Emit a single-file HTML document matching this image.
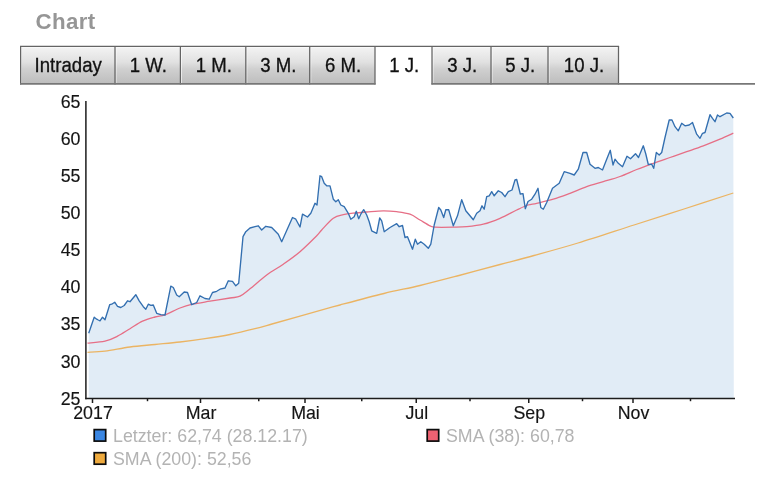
<!DOCTYPE html>
<html><head><meta charset="utf-8"><title>Chart</title>
<style>
html,body{margin:0;padding:0;background:#fff;}
body{width:768px;height:486px;position:relative;overflow:hidden;font-family:"Liberation Sans",Arial,sans-serif;}
h2{position:absolute;left:35.5px;top:8.5px;margin:0;font-size:22.3px;line-height:26px;font-weight:bold;color:#969696;letter-spacing:0.35px;}
svg{position:absolute;left:0;top:0}
svg text.tt{font-size:18.6px;fill:#111;stroke:#111;stroke-width:0.3px}
svg text{font-family:"Liberation Sans",Arial,sans-serif;font-size:17.8px;fill:#141414;stroke:#141414;stroke-width:0.15px}
.leg{position:absolute;font-size:17.8px;color:#b3b3b3;line-height:20px;white-space:nowrap}
#w{position:absolute;left:0;top:0;width:768px;height:486px;filter:blur(0.5px)}
</style></head><body><div id="w">
<h2>Chart</h2>

<svg width="768" height="486" viewBox="0 0 768 486">
<defs><linearGradient id="tg" x1="0" y1="0" x2="0" y2="1"><stop offset="0" stop-color="#f4f4f4"/><stop offset="0.42" stop-color="#e1e1e1"/><stop offset="0.6" stop-color="#d0d0d0"/><stop offset="1" stop-color="#bdbdbd"/></linearGradient></defs>
<rect x="20" y="46.3" width="95.0" height="37.60" fill="url(#tg)"/>
<path d="M21.1,83.10000000000001 V47.4 H114.4" fill="none" stroke="#fff" stroke-opacity="0.6" stroke-width="1"/>
<text class="tt" transform="translate(68.2,71.9) scale(1,1.08)" text-anchor="middle">Intraday</text>
<rect x="115" y="46.3" width="65.4" height="37.60" fill="url(#tg)"/>
<path d="M116.1,83.10000000000001 V47.4 H179.8" fill="none" stroke="#fff" stroke-opacity="0.6" stroke-width="1"/>
<text class="tt" transform="translate(148.4,71.9) scale(1,1.08)" text-anchor="middle">1 W.</text>
<rect x="180.4" y="46.3" width="65.4" height="37.60" fill="url(#tg)"/>
<path d="M181.5,83.10000000000001 V47.4 H245.20000000000002" fill="none" stroke="#fff" stroke-opacity="0.6" stroke-width="1"/>
<text class="tt" transform="translate(213.8,71.9) scale(1,1.08)" text-anchor="middle">1 M.</text>
<rect x="245.8" y="46.3" width="63.9" height="37.60" fill="url(#tg)"/>
<path d="M246.9,83.10000000000001 V47.4 H309.09999999999997" fill="none" stroke="#fff" stroke-opacity="0.6" stroke-width="1"/>
<text class="tt" transform="translate(278.4,71.9) scale(1,1.08)" text-anchor="middle">3 M.</text>
<rect x="309.7" y="46.3" width="65.3" height="37.60" fill="url(#tg)"/>
<path d="M310.8,83.10000000000001 V47.4 H374.4" fill="none" stroke="#fff" stroke-opacity="0.6" stroke-width="1"/>
<text class="tt" transform="translate(343.1,71.9) scale(1,1.08)" text-anchor="middle">6 M.</text>
<text class="tt" transform="translate(404.2,71.9) scale(1,1.08)" text-anchor="middle">1 J.</text>
<rect x="432" y="46.3" width="59.0" height="37.60" fill="url(#tg)"/>
<path d="M433.1,83.10000000000001 V47.4 H490.4" fill="none" stroke="#fff" stroke-opacity="0.6" stroke-width="1"/>
<text class="tt" transform="translate(462.2,71.9) scale(1,1.08)" text-anchor="middle">3 J.</text>
<rect x="491" y="46.3" width="57.0" height="37.60" fill="url(#tg)"/>
<path d="M492.1,83.10000000000001 V47.4 H547.4" fill="none" stroke="#fff" stroke-opacity="0.6" stroke-width="1"/>
<text class="tt" transform="translate(520.2,71.9) scale(1,1.08)" text-anchor="middle">5 J.</text>
<rect x="548" y="46.3" width="70.5" height="37.60" fill="url(#tg)"/>
<path d="M549.1,83.10000000000001 V47.4 H617.9" fill="none" stroke="#fff" stroke-opacity="0.6" stroke-width="1"/>
<text class="tt" transform="translate(584.0,71.9) scale(1,1.08)" text-anchor="middle">10 J.</text>
<g stroke="#646464" stroke-width="1.25" fill="none"><line x1="20" y1="46.3" x2="619.1" y2="46.3"/><line x1="20.6" y1="46.3" x2="20.6" y2="84.5"/><line x1="115" y1="46.3" x2="115" y2="84.5"/><line x1="180.4" y1="46.3" x2="180.4" y2="84.5"/><line x1="245.8" y1="46.3" x2="245.8" y2="84.5"/><line x1="309.7" y1="46.3" x2="309.7" y2="84.5"/><line x1="375" y1="46.3" x2="375" y2="84.5"/><line x1="432" y1="46.3" x2="432" y2="84.5"/><line x1="491" y1="46.3" x2="491" y2="84.5"/><line x1="548" y1="46.3" x2="548" y2="84.5"/><line x1="618.5" y1="46.3" x2="618.5" y2="84.5"/></g>
<g stroke="#777" stroke-width="1.6"><line x1="20" y1="83.9" x2="375.6" y2="83.9"/><line x1="431.4" y1="83.9" x2="755" y2="83.9"/></g>
<path d="M88.7,398 L88.7,333.3 L94.2,317.2 L96.7,319.2 L98.3,320 L100,320.8 L102.5,317.2 L105,319.7 L109.7,304.7 L111.7,304.2 L114.7,302.2 L117.5,306.3 L120.8,307.5 L124.2,305.5 L127.5,300.8 L130,301.7 L135.8,294.7 L139.2,300.8 L143.3,306.7 L145.8,309.2 L148.3,304.2 L150.8,305.3 L153.3,305 L156.7,313.3 L160.8,314.7 L165,315 L170.8,286.2 L173.3,287.5 L176.7,295 L179.2,296.7 L184.2,292 L187.5,292.5 L191.7,304.7 L196.7,302.5 L200,295.8 L205,298.5 L209.2,299.2 L212.5,292.5 L216.7,291.3 L220,289.2 L225,288 L228.3,280.8 L232.5,281.3 L235.8,285.8 L238.7,283.3 L243,236.7 L245.8,231.7 L250,228 L255,226.7 L258.3,225.8 L261.7,230 L265.8,226.3 L271.7,227.5 L278.3,234.2 L281.7,241.7 L286.7,230.5 L292.5,217.5 L295.8,219.2 L300,227 L302.5,214.2 L307.5,217 L310.8,213.3 L315,203.3 L317,205 L320,175.8 L321.7,176.7 L324.2,183.3 L326.7,185.8 L330,185.8 L333.3,199.2 L335.8,201.7 L338.3,199.7 L340.8,205 L344.2,206.7 L348.3,213.3 L350.8,219.2 L354.2,216.7 L356.3,211.3 L358.7,218.7 L360.8,214.2 L363.7,209.7 L366.7,215 L369.2,221.7 L371.7,230.8 L376.7,233.3 L379.7,218 L381.7,220.8 L384.2,231.7 L390,227.5 L396.7,223.7 L399.2,226.7 L402.5,225.5 L405,237.5 L407.5,236.7 L412.5,249.2 L415.3,239.2 L417.5,244.2 L420.8,241.7 L424.2,244.2 L428.3,248.3 L430.8,244.2 L434.2,225 L438.7,207.5 L440.8,210 L443.7,217.5 L445.8,209.7 L448.7,209.7 L453.3,225.8 L457.5,215.8 L461.7,199.7 L465.8,210.8 L470,215.8 L473.3,219.7 L476.7,213.3 L480,210.8 L482,205.8 L484.2,209.2 L486.7,196.7 L489.2,195.8 L491.7,191.7 L494.2,195.8 L498.3,190.8 L501.7,192.5 L505,196.7 L508.3,191.7 L512,190 L515,180 L516.7,179.5 L520.3,194 L523,193.7 L525.3,208.7 L528,201.5 L531.7,199.2 L535,194.2 L538,188.3 L540.8,207.5 L543.3,209.2 L546.7,202.5 L552.5,188.3 L559.2,183.3 L564.2,171.7 L570,173.3 L574.2,175 L578.3,169.2 L583,152.5 L586.7,152.5 L590,164.2 L595,168.3 L598.3,167.5 L602.5,170 L606.7,159.2 L610.3,150.3 L613,165 L615,159.2 L618.3,163.3 L622.5,166.7 L627,156.3 L630.5,158.8 L635.5,153.7 L638.5,157.5 L643.3,145.8 L645.8,154 L648.3,164.5 L651.7,164.2 L653.7,168.3 L656.3,152.5 L659.2,155 L661.7,152.5 L665,137.5 L669.2,120 L672,120 L675,126.7 L678.3,130.8 L681.7,123.3 L685,125.8 L689.2,125 L692.5,122.5 L696.7,134.2 L700,138.3 L702.5,133.3 L705,132.5 L710,114.7 L712.5,118.3 L715,121.7 L717.5,115 L720,116.7 L726.7,113 L730,113.3 L733.3,118 L733.8,398 Z" fill="#e1ecf6"/>
<path d="M87.50,352.30 C90.42,352.12 97.92,352.08 105.00,351.20 C112.08,350.32 121.67,348.12 130.00,347.00 C138.33,345.88 146.67,345.33 155.00,344.50 C163.33,343.67 171.67,342.97 180.00,342.00 C188.33,341.03 196.67,339.95 205.00,338.70 C213.33,337.45 221.67,336.17 230.00,334.50 C238.33,332.83 248.00,330.45 255.00,328.70 C262.00,326.95 264.50,326.12 272.00,324.00 C279.50,321.88 288.67,319.17 300.00,316.00 C311.33,312.83 326.00,308.75 340.00,305.00 C354.00,301.25 370.67,296.75 384.00,293.50 C397.33,290.25 407.50,288.50 420.00,285.50 C432.50,282.50 445.67,279.00 459.00,275.50 C472.33,272.00 487.50,267.83 500.00,264.50 C512.50,261.17 521.00,259.08 534.00,255.50 C547.00,251.92 561.33,248.08 578.00,243.00 C594.67,237.92 616.33,230.67 634.00,225.00 C651.67,219.33 667.45,214.33 684.00,209.00 C700.55,203.67 725.08,195.67 733.30,193.00" fill="none" stroke="#ebb463" stroke-width="1.3"/>
<path d="M87.50,343.20 C90.42,342.87 100.00,342.37 105.00,341.20 C110.00,340.03 113.33,338.28 117.50,336.20 C121.67,334.12 125.83,331.20 130.00,328.70 C134.17,326.20 138.33,323.15 142.50,321.20 C146.67,319.25 151.25,318.07 155.00,317.00 C158.75,315.93 160.83,316.30 165.00,314.80 C169.17,313.30 175.42,309.77 180.00,308.00 C184.58,306.23 187.50,305.33 192.50,304.20 C197.50,303.07 203.75,302.23 210.00,301.20 C216.25,300.17 225.00,298.83 230.00,298.00 C235.00,297.17 236.67,297.73 240.00,296.20 C243.33,294.67 245.55,292.33 250.00,288.80 C254.45,285.27 261.15,279.10 266.70,275.00 C272.25,270.90 277.75,268.08 283.30,264.20 C288.85,260.32 294.43,256.43 300.00,251.70 C305.57,246.97 313.08,239.42 316.70,235.80 C320.32,232.18 318.93,232.92 321.70,230.00 C324.47,227.08 329.70,220.85 333.30,218.30 C336.90,215.75 339.68,215.58 343.30,214.70 C346.92,213.82 351.10,213.45 355.00,213.00 C358.90,212.55 361.98,212.37 366.70,212.00 C371.42,211.63 378.30,210.85 383.30,210.80 C388.30,210.75 392.25,211.13 396.70,211.70 C401.15,212.27 406.12,212.82 410.00,214.20 C413.88,215.58 416.67,218.07 420.00,220.00 C423.33,221.93 427.50,224.60 430.00,225.80 C432.50,227.00 431.12,226.97 435.00,227.20 C438.88,227.43 448.02,227.28 453.30,227.20 C458.58,227.12 461.70,227.20 466.70,226.70 C471.70,226.20 477.75,225.60 483.30,224.20 C488.85,222.80 494.43,220.67 500.00,218.30 C505.57,215.93 512.03,212.22 516.70,210.00 C521.37,207.78 524.67,206.12 528.00,205.00 C531.33,203.88 532.48,204.27 536.70,203.30 C540.92,202.33 547.75,200.87 553.30,199.20 C558.85,197.53 564.43,195.38 570.00,193.30 C575.57,191.22 581.15,188.63 586.70,186.70 C592.25,184.77 597.75,183.40 603.30,181.70 C608.85,180.00 614.43,178.53 620.00,176.50 C625.57,174.47 631.15,171.70 636.70,169.50 C642.25,167.30 647.75,165.30 653.30,163.30 C658.85,161.30 664.43,159.43 670.00,157.50 C675.57,155.57 681.15,153.65 686.70,151.70 C692.25,149.75 697.75,147.88 703.30,145.80 C708.85,143.72 715.00,141.30 720.00,139.20 C725.00,137.10 731.08,134.20 733.30,133.20" fill="none" stroke="#e66f86" stroke-width="1.3"/>
<polyline points="88.7,333.3 94.2,317.2 96.7,319.2 98.3,320 100,320.8 102.5,317.2 105,319.7 109.7,304.7 111.7,304.2 114.7,302.2 117.5,306.3 120.8,307.5 124.2,305.5 127.5,300.8 130,301.7 135.8,294.7 139.2,300.8 143.3,306.7 145.8,309.2 148.3,304.2 150.8,305.3 153.3,305 156.7,313.3 160.8,314.7 165,315 170.8,286.2 173.3,287.5 176.7,295 179.2,296.7 184.2,292 187.5,292.5 191.7,304.7 196.7,302.5 200,295.8 205,298.5 209.2,299.2 212.5,292.5 216.7,291.3 220,289.2 225,288 228.3,280.8 232.5,281.3 235.8,285.8 238.7,283.3 243,236.7 245.8,231.7 250,228 255,226.7 258.3,225.8 261.7,230 265.8,226.3 271.7,227.5 278.3,234.2 281.7,241.7 286.7,230.5 292.5,217.5 295.8,219.2 300,227 302.5,214.2 307.5,217 310.8,213.3 315,203.3 317,205 320,175.8 321.7,176.7 324.2,183.3 326.7,185.8 330,185.8 333.3,199.2 335.8,201.7 338.3,199.7 340.8,205 344.2,206.7 348.3,213.3 350.8,219.2 354.2,216.7 356.3,211.3 358.7,218.7 360.8,214.2 363.7,209.7 366.7,215 369.2,221.7 371.7,230.8 376.7,233.3 379.7,218 381.7,220.8 384.2,231.7 390,227.5 396.7,223.7 399.2,226.7 402.5,225.5 405,237.5 407.5,236.7 412.5,249.2 415.3,239.2 417.5,244.2 420.8,241.7 424.2,244.2 428.3,248.3 430.8,244.2 434.2,225 438.7,207.5 440.8,210 443.7,217.5 445.8,209.7 448.7,209.7 453.3,225.8 457.5,215.8 461.7,199.7 465.8,210.8 470,215.8 473.3,219.7 476.7,213.3 480,210.8 482,205.8 484.2,209.2 486.7,196.7 489.2,195.8 491.7,191.7 494.2,195.8 498.3,190.8 501.7,192.5 505,196.7 508.3,191.7 512,190 515,180 516.7,179.5 520.3,194 523,193.7 525.3,208.7 528,201.5 531.7,199.2 535,194.2 538,188.3 540.8,207.5 543.3,209.2 546.7,202.5 552.5,188.3 559.2,183.3 564.2,171.7 570,173.3 574.2,175 578.3,169.2 583,152.5 586.7,152.5 590,164.2 595,168.3 598.3,167.5 602.5,170 606.7,159.2 610.3,150.3 613,165 615,159.2 618.3,163.3 622.5,166.7 627,156.3 630.5,158.8 635.5,153.7 638.5,157.5 643.3,145.8 645.8,154 648.3,164.5 651.7,164.2 653.7,168.3 656.3,152.5 659.2,155 661.7,152.5 665,137.5 669.2,120 672,120 675,126.7 678.3,130.8 681.7,123.3 685,125.8 689.2,125 692.5,122.5 696.7,134.2 700,138.3 702.5,133.3 705,132.5 710,114.7 712.5,118.3 715,121.7 717.5,115 720,116.7 726.7,113 730,113.3 733.3,118" fill="none" stroke="#336fb0" stroke-width="1.35" stroke-linejoin="round"/>
<g stroke="#1c1c1c" stroke-width="1.5">
<line x1="85.9" y1="101" x2="85.9" y2="399.25"/>
<line x1="85.25" y1="398.5" x2="735" y2="398.5"/>
<line x1="92.5" y1="398.5" x2="92.5" y2="403"/>
<line x1="147.5" y1="398.5" x2="147.5" y2="401.2"/>
<line x1="200.5" y1="398.5" x2="200.5" y2="403"/>
<line x1="258.75" y1="398.5" x2="258.75" y2="401.2"/>
<line x1="305" y1="398.5" x2="305" y2="403"/>
<line x1="361.75" y1="398.5" x2="361.75" y2="401.2"/>
<line x1="416.25" y1="398.5" x2="416.25" y2="403"/>
<line x1="470" y1="398.5" x2="470" y2="401.2"/>
<line x1="528.75" y1="398.5" x2="528.75" y2="403"/>
<line x1="582.5" y1="398.5" x2="582.5" y2="401.2"/>
<line x1="633" y1="398.5" x2="633" y2="403"/>
<line x1="690.5" y1="398.5" x2="690.5" y2="401.2"/>
</g>
<text x="80.5" y="107.7" text-anchor="end">65</text>
<text x="80.5" y="144.8" text-anchor="end">60</text>
<text x="80.5" y="181.9" text-anchor="end">55</text>
<text x="80.5" y="219.1" text-anchor="end">50</text>
<text x="80.5" y="256.2" text-anchor="end">45</text>
<text x="80.5" y="293.3" text-anchor="end">40</text>
<text x="80.5" y="330.4" text-anchor="end">35</text>
<text x="80.5" y="367.6" text-anchor="end">30</text>
<text x="80.5" y="404.7" text-anchor="end">25</text>

<text x="93.0" y="418.7" text-anchor="middle">2017</text>
<text x="201.0" y="418.7" text-anchor="middle">Mar</text>
<text x="305.5" y="418.7" text-anchor="middle">Mai</text>
<text x="416.75" y="418.7" text-anchor="middle">Jul</text>
<text x="529.25" y="418.7" text-anchor="middle">Sep</text>
<text x="633.5" y="418.7" text-anchor="middle">Nov</text>

<g stroke="#0c0c0c" stroke-width="1.7">
<rect x="94.2" y="429.6" width="11.5" height="11.5" fill="#3a86e2"/>
<rect x="94.2" y="452.7" width="11.5" height="11.5" fill="#eeaa3e"/>
<rect x="427.2" y="429.6" width="11.5" height="11.5" fill="#ee6272"/>
</g>
</svg>
<div class="leg" style="left:113px;top:426px">Letzter: 62,74 (28.12.17)</div>
<div class="leg" style="left:113px;top:449px">SMA (200): 52,56</div>
<div class="leg" style="left:446px;top:426px">SMA (38): 60,78</div>
</div></body></html>
